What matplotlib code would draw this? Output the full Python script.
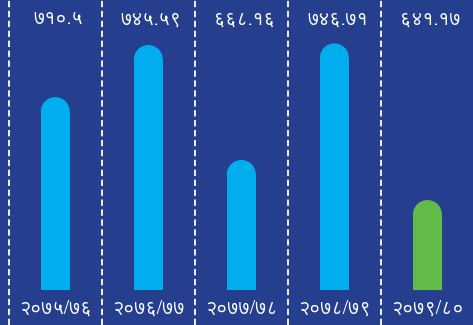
import matplotlib
matplotlib.use("Agg")
import matplotlib.pyplot as plt
from matplotlib.patches import Ellipse

# fiscal years and totals
years = ["२०७५/७६", "२०७६/७७", "२०७७/७८", "२०७८/७९", "२०७९/८०"]
values = [710.5, 745.59, 668.16, 746.71, 641.17]
value_labels = ["७१०.५", "७४५.५९", "६६८.१६", "७४६.७१", "६४१.१७"]
bar_colors = ["#00aeef", "#00aeef", "#00aeef", "#00aeef", "#62bb46"]

BG = "#253f8e"
BASE = 580.6
FAM = ["FreeSans", "DejaVu Sans"]  # FreeSans has the Devanagari digits

fig = plt.figure(figsize=(4.73, 3.25), dpi=100)
fig.patch.set_facecolor(BG)
ax = fig.add_axes([0, 0, 1, 1])
ax.set_facecolor(BG)
ax.set_xlim(-0.594, 4.49)
ax.set_ylim(557.0, 775.9)
ax.axis("off")

# px per data unit, used for the round caps
ypx = 325 / (775.9 - 557.0)
xpx = 473 / (4.49 + 0.594)
w = 29 / xpx
r = 14.5 / ypx

for i, (v, c) in enumerate(zip(values, bar_colors)):
    ax.bar(i, v - r - BASE, bottom=BASE, width=w, color=c, linewidth=0)
    ax.add_patch(Ellipse((i, v - r), w, 2 * r, color=c, linewidth=0))
    ax.text(i + 0.03, 762.8, value_labels[i], ha="center", va="center",
            color="white", fontsize=14, family=FAM)
    ax.text(i, 567.8, years[i], ha="center", va="center",
            color="white", fontsize=14, family=FAM)

for i in range(5):
    ax.axvline(i - 0.5, color="white", lw=1.3, ls=(0, (3.5, 2)))

fig.savefig("out.png", dpi=100, facecolor=BG)
